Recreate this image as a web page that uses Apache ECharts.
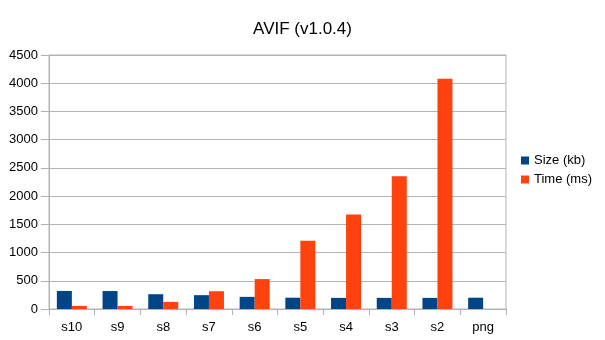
<!DOCTYPE html>
<html><head><meta charset="utf-8">
<script src="https://cdn.jsdelivr.net/npm/echarts@6/dist/echarts.min.js"></script>
<style>html,body{margin:0;padding:0;background:#fff}#c{width:605px;height:340px}</style>
</head><body><div id="c"></div>
<script>
const categories = ['s10','s9','s8','s7','s6','s5','s4','s3','s2','png'];
const sizeKb = [320, 318, 262, 245, 215, 200, 197, 197, 197, 200];
const timeMs = [55, 55, 125, 315, 530, 1210, 1675, 2350, 4080, 0];
const yTicks = {min: 0, max: 4500, interval: 500};
const chart = echarts.init(document.getElementById('c'));
chart.setOption({
  animation: false,
  textStyle: {fontFamily: 'Liberation Sans'},
  title: {text: 'AVIF (v1.0.4)', left: 'center', top: 16,
    textStyle: {fontSize: 17, fontWeight: 'normal', color: '#000', fontFamily: 'Liberation Sans'}},
  grid: {left: 49, right: 99, top: 55, bottom: 31, show: true, borderColor: '#b3b3b3', borderWidth: 1},
  legend: {orient: 'vertical', left: 516, top: 149, itemWidth: 8, itemHeight: 8, itemGap: 6,
    icon: 'rect', textStyle: {fontSize: 13, color: '#000'}},
  xAxis: {type: 'category', data: categories,
    axisLine: {lineStyle: {color: '#b3b3b3'}},
    axisTick: {show: true, alignWithLabel: false, length: 6, lineStyle: {color: '#b3b3b3'}},
    axisLabel: {color: '#000', fontSize: 13, margin: 12}},
  yAxis: {type: 'value', min: yTicks.min, max: yTicks.max, interval: yTicks.interval,
    axisLine: {show: true, lineStyle: {color: '#b3b3b3'}},
    axisTick: {show: true, length: 8, lineStyle: {color: '#b3b3b3'}},
    splitLine: {lineStyle: {color: '#b3b3b3'}},
    axisLabel: {color: '#000', fontSize: 13, margin: 11, formatter: v => String(v)}},
  series: [
    {name: 'Size (kb)', type: 'bar', data: sizeKb, barWidth: 15, barGap: '0%', itemStyle: {color: '#004586'}},
    {name: 'Time (ms)', type: 'bar', data: timeMs, barWidth: 15, itemStyle: {color: '#ff420e'}}
  ]
});
</script></body></html>
